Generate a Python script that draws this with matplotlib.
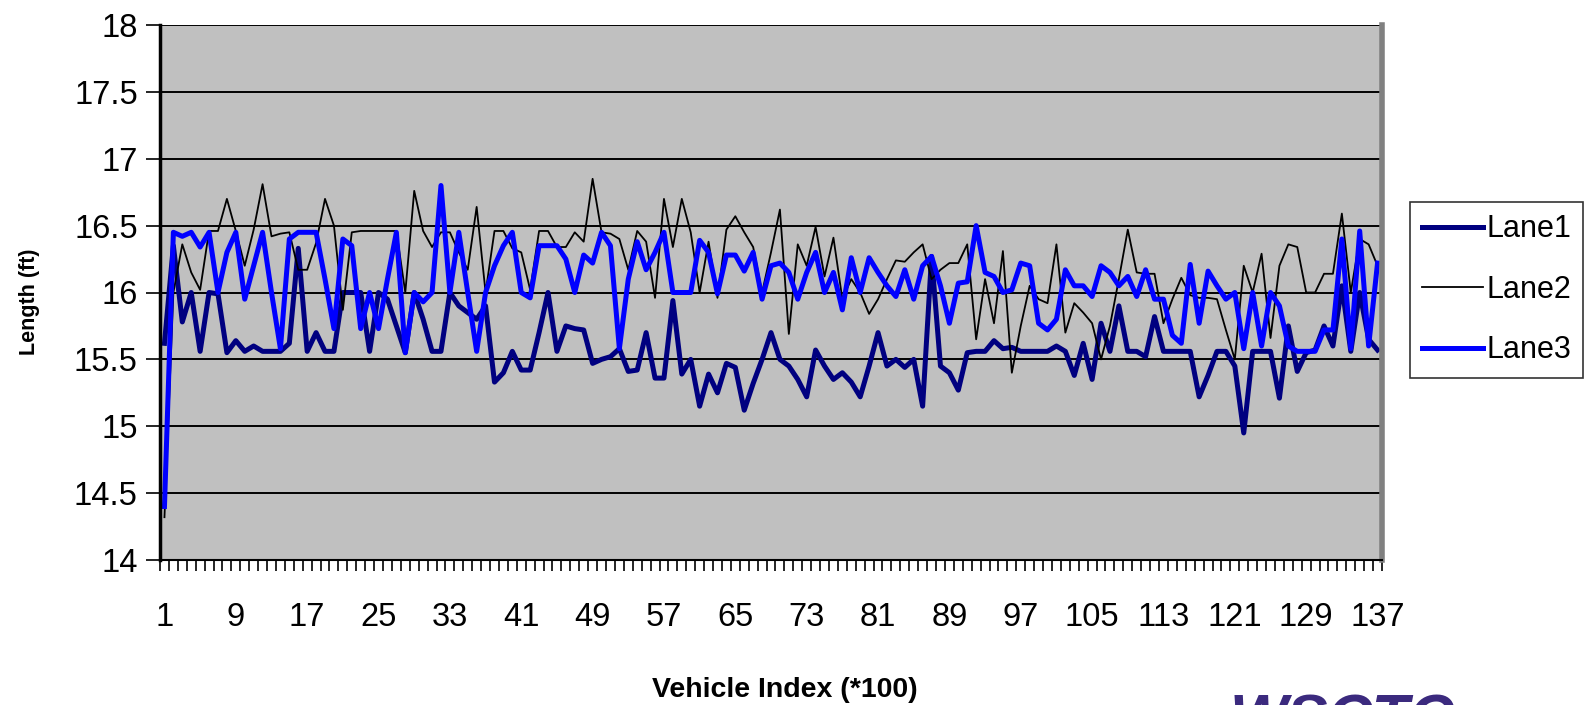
import matplotlib
matplotlib.use("Agg")
import matplotlib.pyplot as plt
import numpy as np

# vehicle length per lane (137 points each)
lane1 = [15.62, 16.35, 15.78, 16.0, 15.56, 16.0, 15.99, 15.55, 15.64, 15.56,
         15.6, 15.56, 15.56, 15.56, 15.62, 16.33, 15.56, 15.7, 15.56, 15.56,
         16.0, 16.0, 16.0, 15.56, 16.0, 15.95, 15.75, 15.55, 16.0, 15.8,
         15.56, 15.56, 16.0, 15.9, 15.85, 15.8, 15.9, 15.33, 15.4, 15.56,
         15.42, 15.42, 15.7, 16.0, 15.56, 15.75, 15.73, 15.72, 15.47, 15.5,
         15.52, 15.58, 15.41, 15.42, 15.7, 15.36, 15.36, 15.94, 15.39, 15.5,
         15.15, 15.39, 15.25, 15.47, 15.44, 15.12, 15.32, 15.5, 15.7, 15.5,
         15.45, 15.35, 15.22, 15.57, 15.45, 15.35, 15.4, 15.33, 15.22, 15.45,
         15.7, 15.45, 15.5, 15.44, 15.5, 15.15, 16.27, 15.45, 15.4, 15.27,
         15.55, 15.56, 15.56, 15.64, 15.58, 15.59, 15.56, 15.56, 15.56, 15.56,
         15.6, 15.56, 15.38, 15.62, 15.35, 15.77, 15.56, 15.9, 15.56, 15.56,
         15.52, 15.82, 15.56, 15.56, 15.56, 15.56, 15.22, 15.38, 15.56, 15.56,
         15.45, 14.95, 15.56, 15.56, 15.56, 15.21, 15.75, 15.41, 15.55, 15.57,
         15.75, 15.6, 16.05, 15.56, 16.0, 15.65, 15.57]

lane2 = [14.32, 16.0, 16.36, 16.15, 16.02, 16.46, 16.46, 16.7, 16.46, 16.2,
         16.47, 16.81, 16.42, 16.44, 16.45, 16.17, 16.17, 16.37, 16.7, 16.5,
         15.87, 16.45, 16.46, 16.46, 16.46, 16.46, 16.46, 16.0, 16.76, 16.46,
         16.34, 16.45, 16.45, 16.3, 16.17, 16.64, 16.0, 16.46, 16.46, 16.33,
         16.3, 16.02, 16.46, 16.46, 16.34, 16.34, 16.45, 16.38, 16.85, 16.45,
         16.44, 16.4, 16.17, 16.46, 16.38, 15.96, 16.7, 16.34, 16.7, 16.45,
         16.0, 16.38, 15.96, 16.47, 16.57, 16.45, 16.34, 16.0, 16.3, 16.62,
         15.69, 16.36, 16.2, 16.49, 16.12, 16.41, 15.95, 16.1, 16.0, 15.84,
         15.95, 16.1, 16.24, 16.23, 16.3, 16.36, 16.1, 16.17, 16.22, 16.22,
         16.36, 15.65, 16.1, 15.77, 16.31, 15.4, 15.75, 16.05, 15.95, 15.92,
         16.36, 15.7, 15.92, 15.85, 15.77, 15.5, 15.75, 16.1, 16.47, 16.15,
         16.14, 16.14, 15.77, 15.95, 16.11, 15.98, 15.96, 15.96, 15.95, 15.72,
         15.5, 16.2, 16.0, 16.29, 15.66, 16.2, 16.36, 16.34, 16.0, 16.0,
         16.14, 16.14, 16.59, 16.0, 16.4, 16.36, 16.2]

lane3 = [14.4, 16.45, 16.42, 16.45, 16.34, 16.45, 16.0, 16.3, 16.45, 15.95,
         16.2, 16.45, 16.0, 15.58, 16.4, 16.45, 16.45, 16.45, 16.1, 15.73,
         16.4, 16.35, 15.73, 16.0, 15.73, 16.1, 16.45, 15.55, 16.0, 15.93,
         16.0, 16.8, 16.0, 16.45, 16.0, 15.56, 16.0, 16.2, 16.35, 16.45,
         16.0, 15.96, 16.35, 16.35, 16.35, 16.25, 16.0, 16.28, 16.22, 16.45,
         16.35, 15.58, 16.1, 16.38, 16.17, 16.3, 16.45, 16.0, 16.0, 16.0,
         16.39, 16.3, 15.99, 16.28, 16.28, 16.16, 16.3, 15.95, 16.2, 16.22,
         16.15, 15.95, 16.15, 16.3, 16.0, 16.15, 15.87, 16.26, 16.0, 16.26,
         16.15, 16.05, 15.97, 16.17, 15.95, 16.2, 16.27, 16.05, 15.77, 16.07,
         16.08, 16.5, 16.15, 16.12, 16.0, 16.02, 16.22, 16.2, 15.77, 15.72,
         15.8, 16.17, 16.05, 16.05, 15.97, 16.2, 16.15, 16.05, 16.12, 15.97,
         16.17, 15.95, 15.95, 15.68, 15.62, 16.21, 15.77, 16.16, 16.05, 15.95,
         16.0, 15.58, 16.0, 15.6, 16.0, 15.9, 15.6, 15.56, 15.56, 15.56,
         15.72, 15.72, 16.4, 15.58, 16.46, 15.6, 16.22]

vehicle = np.arange(1, len(lane1) + 1)
x_labels = list(range(1, 138, 8))
y_ticks = [14, 14.5, 15, 15.5, 16, 16.5, 17, 17.5, 18]

plt.rcParams["font.family"] = ["Liberation Sans", "DejaVu Sans"]

fig = plt.figure(figsize=(15.91, 7.05), dpi=100)
ax = fig.add_axes([160 / 1591, 1 - 560 / 705, 1222 / 1591, 535 / 705])
ax.set_facecolor("#c0c0c0")

ax.plot(vehicle, lane1, color="#000080", lw=3.6, label="Lane1", solid_joinstyle="round")
ax.plot(vehicle, lane2, color="black", lw=1.3, label="Lane2")
ax.plot(vehicle, lane3, color="#0000ff", lw=3.6, label="Lane3", solid_joinstyle="round")

ax.set_xlim(0.5, len(vehicle) + 0.5)
ax.set_ylim(14, 18)

# category boundaries as tick marks, labels every 8th vehicle
ax.set_xticks(np.arange(0.5, len(vehicle) + 1, 1))
ax.set_xticklabels([])
ax.set_xticks(x_labels, minor=True)
ax.set_xticklabels([str(v) for v in x_labels], minor=True)
ax.tick_params(axis="x", which="major", length=8, width=1.2, direction="out")
ax.tick_params(axis="x", which="minor", length=0, labelsize=23.5, pad=30)

ax.set_yticks(y_ticks)
ax.set_yticklabels(["%g" % v for v in y_ticks])
ax.tick_params(axis="y", length=10, width=1.2, labelsize=23.5, pad=6)

ax.grid(axis="y", color="black", lw=1.4)
ax.set_axisbelow(True)

ax.spines["top"].set_visible(False)
ax.spines["left"].set_linewidth(2.5)
ax.spines["bottom"].set_linewidth(1.5)
ax.spines["right"].set_color("#808080")
ax.spines["right"].set_linewidth(4)

fig.text(30 / 1591, 1 - 302 / 705, "Length (ft)", rotation=90, fontsize=15.5,
         fontweight="bold", ha="center", va="center")
fig.text(785 / 1591, 1 - 690 / 705, "Vehicle Index (*100)", fontsize=20.5,
         fontweight="bold", ha="center", va="center")

leg = fig.legend(loc="upper left", bbox_to_anchor=(1410 / 1591, 1 - 202 / 705),
                 fontsize=22, frameon=True, fancybox=False, handlelength=2.0,
                 handletextpad=0.1, borderpad=0.4, labelspacing=1.0,
                 borderaxespad=0)
leg.get_frame().set_edgecolor("black")
leg.get_frame().set_linewidth(1.2)

# logo cut off at the bottom edge, as in the source image
fig.text(1230 / 1591, 1 - 694 / 705, "WSCTC", fontsize=44, fontweight="bold",
         fontstyle="italic", color="#3b2a7e", ha="left", va="top")

fig.savefig("out.png", dpi=100)
